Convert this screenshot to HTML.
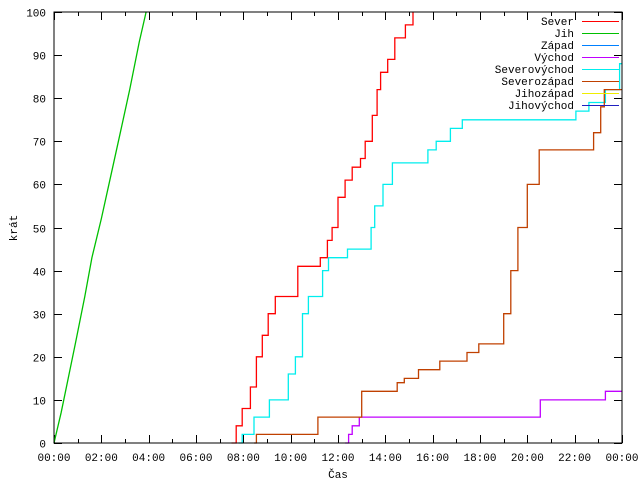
<!DOCTYPE html>
<html><head><meta charset="utf-8">
<style>
body{margin:0;background:#fff;}
svg{display:block;font-family:"Liberation Mono","DejaVu Sans Mono",monospace;font-size:11px;}
</style></head>
<body>
<svg id="chart" width="640" height="480" xmlns="http://www.w3.org/2000/svg">
<rect width="640" height="480" fill="#fff"/>
<g id="grid"></g>
<g id="series"></g>
<rect x="54" y="12" width="568" height="431" fill="none" stroke="#000" stroke-width="1"/>
<text transform="translate(17,228) rotate(-90)" text-anchor="middle">krát</text>
<text x="338" y="478" text-anchor="middle">Čas</text>
<g id="legend"></g>
</svg>
<script>
const seriesNames = ["Sever","Jih","Západ","Východ","Severovýchod","Severozápad","Jihozápad","Jihovýchod"];
const seriesColors = ["#ff0000","#00c000","#0080ff","#c000ff","#00eeee","#c04000","#eeee00","#2020c0"];
const xTickLabels = ["00:00","02:00","04:00","06:00","08:00","10:00","12:00","14:00","16:00","18:00","20:00","22:00","00:00"];
const yTickLabels = [0,10,20,30,40,50,60,70,80,90,100];
// [hour, count] pairs
const severHours = [7.5,7.7,7.95,8.3,8.55,8.8,9.05,9.35,10.0,10.3,10.95,11.25,11.55,11.75,12.0,12.3,12.6,12.95,13.15,13.45,13.65,13.8,14.1,14.4,14.85,15.17];
const severValues = [0,4,8,13,20,25,30,34,34,41,41,43,47,50,57,61,64,66,70,76,82,86,89,94,97,100];
const jihHours = [0,0.3,0.6,0.9,1.3,1.6,2.0,2.4,2.8,3.2,3.6,3.89];
const jihValues = [0,7,15,23,34,43,52,62,72,82,93,100];
const zapadHours = [];
const zapadValues = [];
const vychodHours = [12.3,12.45,12.6,12.9,20.5,20.55,23.25,23.3,24];
const vychodValues = [0,2,4,6,6,10,10,12,12];
const svHours = [7.8,7.95,8.45,9.1,9.9,10.2,10.5,10.75,11.0,11.35,11.6,12.4,12.7,13.4,13.55,13.9,14.3,14.8,15.8,16.15,16.75,17.25,21.9,22.05,22.6,23.1,23.3,23.9,24];
const svValues = [0,2,6,10,16,20,30,34,34,40,43,45,45,50,55,60,65,65,68,70,73,75,75,77,79,79,82,88,88];
const szHours = [8.45,8.55,11.0,11.15,12.8,13.0,14.05,14.5,14.8,15.4,16.3,17.45,17.95,18.7,19.0,19.3,19.6,20.0,20.5,22.7,22.8,23.1,23.25,24];
const szValues = [0,2,2,6,6,12,12,14,15,17,19,21,23,23,30,40,50,60,68,68,72,78,82,82];
const jzHours = [];
const jzValues = [];
const jvHours = [];
const jvValues = [];

const X0=54,X1=622,Y0=443,Y1=12;
const xScale=h=>X0+(X1-X0)*h/24;
const yScale=v=>Y0-(Y0-Y1)*v/100;
const NS="http://www.w3.org/2000/svg";
function mk(tag,attrs,parent){const e=document.createElementNS(NS,tag);for(const k in attrs)e.setAttribute(k,attrs[k]);parent.appendChild(e);return e;}
const grid=document.getElementById('grid');
for(let h=0;h<=24;h++){
  const x=Math.round(xScale(h))+0.5, len=(h%2==0)?8:4;
  const t=mk('path',{d:`M${x},${Y0}v-${len}M${x},${Y1}v${len}`,stroke:'#000','stroke-width':1},grid);
  
  
}
xTickLabels.forEach((l,i)=>{
  const t=mk('text',{x:xScale(i*2),y:Y0+18,'text-anchor':'middle'},grid);t.textContent=l;
  
  
});
yTickLabels.forEach(v=>{
  const y=Math.round(yScale(v))+0.5;
  const t=mk('path',{d:`M${X0},${y}h8M${X1},${y}h-8`,stroke:'#000','stroke-width':1},grid);
  
  
  const l=mk('text',{x:X0-8,y:y+4,'text-anchor':'end'},grid);l.textContent=v;
  
  
});
const sdata=[[severHours,severValues],[jihHours,jihValues],[zapadHours,zapadValues],[vychodHours,vychodValues],[svHours,svValues],[szHours,szValues],[jzHours,jzValues],[jvHours,jvValues]];
const sg=document.getElementById('series');
sdata.forEach((s,i)=>{
  const [hs,vs]=s; if(!hs.length)return;
  let d=`M${xScale(hs[0]).toFixed(1)},${yScale(vs[0]).toFixed(1)}`;
  for(let k=1;k<hs.length;k++){
    if(i==1) d+=`L${xScale(hs[k]).toFixed(1)},${yScale(vs[k]).toFixed(1)}`;
    else d+=`H${xScale(hs[k]).toFixed(1)}V${yScale(vs[k]).toFixed(1)}`;
  }
  const p=mk('path',{d:d,fill:'none',stroke:seriesColors[i],'stroke-width':1.3},sg);
  
  
});
const lg=document.getElementById('legend');
seriesNames.forEach((n,i)=>{
  const y=21+i*12;
  const t=mk('text',{x:574,y:y+4,'text-anchor':'end'},lg);t.textContent=n;
  
  
  const l=mk('path',{d:`M582,${y+0.5}h37`,stroke:seriesColors[i],'stroke-width':1},lg);
  
  
});
</script>
</body></html>
